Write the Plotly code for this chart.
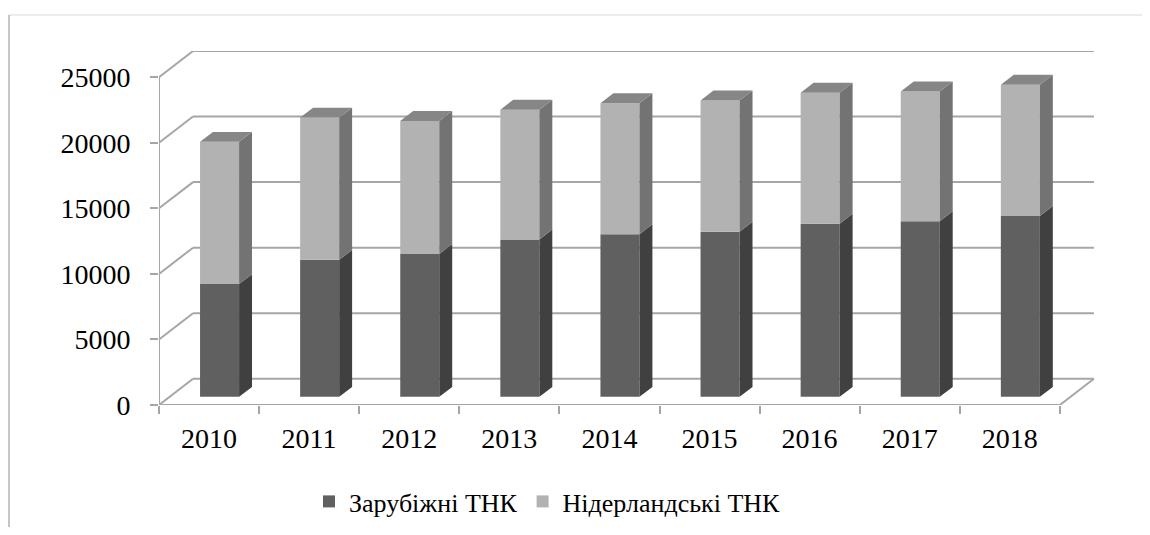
import plotly.graph_objects as go

years = ["2010", "2011", "2012", "2013", "2014", "2015", "2016", "2017", "2018"]
foreign_tnc = [8600, 10450, 10900, 12000, 12400, 12600, 13200, 13400, 13800]
dutch_tnc = [10850, 10850, 10150, 9900, 10000, 10000, 10000, 9900, 10000]
y_ticks = [0, 5000, 10000, 15000, 20000, 25000]
series_names = ["Зарубіжні ТНК", "Нідерландські ТНК"]

OFF = 8  # page body margin
W, H = 1150 - 2 * OFF, 535 - 2 * OFF
ML, MR, MT, MB = 159 - OFF, 1150 - 1096 - OFF, 51 - OFF, 535 - 405 - OFF
FONT = "Liberation Serif, Times New Roman, serif"

# oblique "3d" depth vector (category units, value units)
DX, DY = 0.34, 2000
F0, F1 = 0.31, 0.69          # bar front / back depth fraction
BAR_OFF, BAR_W = -0.09, 0.39

GRID = "#a6a6a6"
DARK, DARK_SIDE = "#606060", "#404040"
LIGHT, LIGHT_SIDE, LIGHT_TOP = "#b2b2b2", "#737373", "#868686"

n = len(years)
idx = list(range(n))
x_max = -0.5 + (W - ML - MR) / 100.1
y_max = 27000

fig = go.Figure()

base0 = F0 * DY
dark_base = [base0] * n
light_base = [base0 + d for d in foreign_tnc]

fig.add_trace(go.Bar(x=idx, y=foreign_tnc, base=dark_base, offset=BAR_OFF, width=BAR_W,
                     marker=dict(color=DARK, line=dict(width=0)), name=series_names[0],
                     hoverinfo="skip"))
fig.add_trace(go.Bar(x=idx, y=dutch_tnc, base=light_base, offset=BAR_OFF, width=BAR_W,
                     marker=dict(color=LIGHT, line=dict(width=0)), name=series_names[1],
                     hoverinfo="skip"))

sdx = (F1 - F0) * DX
sdy = (F1 - F0) * DY


def side_poly(bases, vals):
    xs, ys = [], []
    for i, b, v in zip(idx, bases, vals):
        xr = i + BAR_OFF + BAR_W
        xs += [xr, xr, xr + sdx, xr + sdx, xr, None]
        ys += [b, b + v, b + v + sdy, b + sdy, b, None]
    return xs, ys


for bases, vals, col in [(dark_base, foreign_tnc, DARK_SIDE), (light_base, dutch_tnc, LIGHT_SIDE)]:
    xs, ys = side_poly(bases, vals)
    fig.add_trace(go.Scatter(x=xs, y=ys, mode="lines", fill="toself", fillcolor=col,
                             line=dict(width=0, color=col), showlegend=False, hoverinfo="skip"))

# top faces of the stacks
xs, ys = [], []
for i, b, v in zip(idx, light_base, dutch_tnc):
    xl = i + BAR_OFF
    xr = xl + BAR_W
    t = b + v
    xs += [xl, xr, xr + sdx, xl + sdx, xl, None]
    ys += [t, t, t + sdy, t + sdy, t, None]
fig.add_trace(go.Scatter(x=xs, y=ys, mode="lines", fill="toself", fillcolor=LIGHT_TOP,
                         line=dict(width=0, color=LIGHT_TOP), showlegend=False, hoverinfo="skip"))

shapes = []
line = dict(color=GRID, width=2)
for v in y_ticks:
    # back wall gridline + side wall diagonal
    shapes.append(dict(type="line", xref="x", yref="y", x0=-0.5 + DX, y0=v + DY,
                       x1=n - 0.5 + DX, y1=v + DY, line=line, layer="below"))
    shapes.append(dict(type="line", xref="x", yref="y", x0=-0.5, y0=v,
                       x1=-0.5 + DX, y1=v + DY, line=line, layer="below"))
# front axis line, floor edges
shapes.append(dict(type="line", xref="x", yref="y", x0=-0.5, y0=0, x1=-0.5, y1=y_ticks[-1],
                   line=line, layer="below"))
shapes.append(dict(type="line", xref="x", yref="y", x0=-0.5, y0=0, x1=n - 0.5, y1=0,
                   line=line, layer="below"))
shapes.append(dict(type="line", xref="x", yref="y", x0=n - 0.5, y0=0, x1=n - 0.5 + DX, y1=DY,
                   line=line, layer="below"))


# outer chart frame (screen pixels -> paper)
def px(x):
    return (x - OFF - ML) / (W - ML - MR)


def py_(y):
    return (H - MB - (y - OFF)) / (H - MT - MB)


shapes.append(dict(type="line", xref="paper", yref="paper", x0=px(9), y0=py_(15), x1=px(1200), y1=py_(15),
                   line=dict(color="#d9d9d9", width=1)))
shapes.append(dict(type="line", xref="paper", yref="paper", x0=px(9), y0=py_(15), x1=px(9), y1=py_(600),
                   line=dict(color="#8c8c8c", width=1)))

fig.update_layout(
    width=W, height=H,
    margin=dict(l=ML, r=MR, t=MT, b=MB, autoexpand=False),
    paper_bgcolor="white", plot_bgcolor="white",
    barmode="overlay",
    shapes=shapes,
    font=dict(family=FONT, size=28, color="black"),
    showlegend=True,
    legend=dict(orientation="h", xref="container", yref="container", x=(309 - OFF) / W, xanchor="left",
                y=1 - (478 - OFF) / H, yanchor="top",
                font=dict(family=FONT, size=26, color="black"), itemwidth=30, traceorder="normal"),
    xaxis=dict(range=[-0.5, x_max], tickvals=[i - 0.5 for i in range(n + 1)],
               ticktext=years + [""], ticks="outside", ticklen=8, tickcolor=GRID, tickwidth=2,
               ticklabelshift=50, showgrid=False, zeroline=False, showline=False, fixedrange=True,
               automargin=False),
    yaxis=dict(range=[0, y_max], tickvals=y_ticks, ticktext=[str(v) for v in y_ticks],
               ticks="outside", ticklen=8, tickcolor=GRID,
               tickwidth=2, ticklabelstandoff=14, showgrid=False, zeroline=False, showline=False,
               fixedrange=True, automargin=False),
)

fig.write_html("out.html", config={"displayModeBar": False})
